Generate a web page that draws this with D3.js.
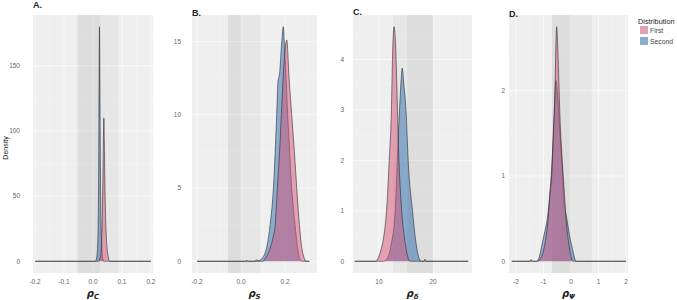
<!DOCTYPE html>
<html><head><meta charset="utf-8">
<script src="https://cdn.jsdelivr.net/npm/d3@7"></script>
<style>body{margin:0;background:#fff}svg{display:block}</style>
</head><body><svg id="c" width="677" height="300"></svg>
<script>
// ---------- data ----------
const panelLabels = ["A.", "B.", "C.", "D."];
const seriesNames = ["First", "Second"];
const legendTitle = "Distribution";
const yAxisTitle = "Density";
const axisSymbols = ["C", "S", "δ", "Ψ"];

const xTicksA = [-0.2, -0.1, 0, 0.1, 0.2];
const xTickLabelsA = ["-0.2", "-0.1", "0.0", "0.1", "0.2"];
const xTicksB = [-0.2, 0, 0.2];
const xTickLabelsB = ["-0.2", "0.0", "0.2"];
const xTicksC = [10, 20];
const xTickLabelsC = ["10", "20"];
const xTicksD = [-2, -1, 0, 1, 2];
const xTickLabelsD = ["-2", "-1", "0", "1", "2"];

const yTicksA = [0, 50, 100, 150];
const yTicksB = [0, 5, 10, 15];
const yTicksC = [0, 1, 2, 3, 4];
const yTicksD = [0, 1, 2];

const xDomainA = [-0.207, 0.207];
const xDomainB = [-0.223, 0.345];
const xDomainC = [5.2, 27.2];
const xDomainD = [-2.25, 2.07];

// shaded intervals [outer, inner]
const bandA = [[-0.054, 0.087], [-0.054, 0.025]];
const bandB = [[-0.059, 0.086], [-0.059, 0.0]];
const bandC = [[12.6, 20], [15.2, 20]];
const bandD = [[-0.69, 0.76], [-0.69, 0.0]];

const firstA = [[-0.2,0],[0.018,0],[0.024,2],[0.028,8],[0.031,25],[0.034,60],[0.036,95],[0.0375,110],[0.039,92],[0.041,60],[0.044,30],[0.048,12],[0.052,4],[0.056,0.5],[0.06,0],[0.2,0]];
const secondA = [[-0.2,0],[0.008,0],[0.012,2],[0.016,12],[0.019,50],[0.0205,110],[0.0215,160],[0.0225,180],[0.0235,150],[0.025,90],[0.027,40],[0.03,12],[0.033,3],[0.037,0],[0.2,0]];

const firstB = [[-0.2,0],[0.1,0],[0.11,0.2],[0.13,0.8],[0.145,1.6],[0.155,2.5],[0.165,5],[0.175,7.5],[0.183,10],[0.195,13.5],[0.2077,15.1],[0.218,12.5],[0.23,10],[0.242,7.5],[0.253,5],[0.265,2.5],[0.275,1],[0.285,0.3],[0.295,0],[0.31,0]];
const secondB = [[-0.2,0],[0.02,0],[0.026,0.06],[0.032,0],[0.06,0],[0.07,0.08],[0.08,0.05],[0.095,0.2],[0.11,0.6],[0.12,1.2],[0.132,2.5],[0.147,5],[0.162,10],[0.168,12.3],[0.175,12.8],[0.185,15],[0.192,16],[0.198,14.5],[0.212,10],[0.23,5],[0.245,2.5],[0.258,0.8],[0.268,0.1],[0.28,0],[0.31,0]];

const firstC = [[5.5,0],[9.3,0],[9.8,0.05],[10.3,0.2],[10.9,0.5],[11.4,1],[11.9,2],[12.3,3],[12.5,4],[12.78,4.65],[13.1,4.2],[13.3,3.5],[13.6,2.3],[14.2,1],[14.8,0.4],[15.3,0.1],[15.8,0],[26.5,0]];
const secondC = [[5.5,0],[10.8,0],[11.5,0.05],[12.2,0.3],[13,1],[13.4,2],[13.8,3],[14.1,3.6],[14.3,3.83],[14.6,3.5],[15.0,3],[15.4,2],[16.2,1],[16.8,0.4],[17.3,0.1],[17.8,0],[18.3,0],[18.5,0.04],[18.7,0],[26.5,0]];

const firstD = [[-2.15,0],[-1.2,0],[-1.13,0.02],[-1.0,0.12],[-0.9,0.3],[-0.83,0.5],[-0.76,0.8],[-0.7,1.0],[-0.63,1.6],[-0.58,2.0],[-0.55,2.5],[-0.52,2.75],[-0.48,2.5],[-0.44,2.1],[-0.4,1.7],[-0.34,1.3],[-0.28,1.0],[-0.22,0.7],[-0.18,0.5],[-0.1,0.25],[-0.03,0.1],[0.05,0.01],[0.1,0],[2.0,0]];
const secondD = [[-2.15,0],[-1.5,0],[-1.45,0.02],[-1.4,0],[-1.25,0],[-1.15,0.05],[-1.05,0.2],[-0.95,0.35],[-0.86,0.5],[-0.72,1.0],[-0.62,1.6],[-0.55,2.12],[-0.5,2.0],[-0.42,1.6],[-0.32,1.1],[-0.25,0.7],[-0.15,0.5],[-0.05,0.3],[0.05,0.15],[0.15,0.02],[0.2,0],[2.0,0]];

// ---------- drawing ----------
const svg = d3.select("#c");
const fills = ["#D65276", "#2A6AAC"];
const fillAlpha = 0.5;
const drawOrder = [1, 0]; // Second below, First on top

const panels = [
  {label: panelLabels[0], x0: 33, x1: 153, xd: xDomainA, xt: xTicksA, xl: xTickLabelsA, yt: yTicksA, band: bandA, series: [firstA, secondA], sym: axisSymbols[0], titleY: 8, ylabX: 20},
  {label: panelLabels[1], x0: 192, x1: 317, xd: xDomainB, xt: xTicksB, xl: xTickLabelsB, yt: yTicksB, band: bandB, series: [firstB, secondB], sym: axisSymbols[1], titleY: 16, ylabX: 181},
  {label: panelLabels[2], x0: 353, x1: 472, xd: xDomainC, xt: xTicksC, xl: xTickLabelsC, yt: yTicksC, band: bandC, series: [firstC, secondC], sym: axisSymbols[2], titleY: 15, ylabX: 344},
  {label: panelLabels[3], x0: 509, x1: 628, xd: xDomainD, xt: xTicksD, xl: xTickLabelsD, yt: yTicksD, band: bandD, series: [firstD, secondD], sym: axisSymbols[3], titleY: 17, ylabX: 505}
];
const panelTop = 15, panelBottom = 273;

panels.forEach(p => {
  const x = d3.scaleLinear().domain(p.xd).range([p.x0, p.x1]);
  const ymax = d3.max(p.series.flat(), d => d[1]);
  const y = d3.scaleLinear().domain([-0.05 * ymax, 1.05 * ymax]).range([panelBottom, panelTop]);
  const g = svg.append("g");
  g.append("rect").attr("x", p.x0).attr("y", panelTop).attr("width", p.x1 - p.x0).attr("height", panelBottom - panelTop).attr("fill", "#EFEFEF");

  // grid
  const xStep = p.xt[1] - p.xt[0];
  const xMinor = d3.range(p.xt[0] - xStep / 2, p.xd[1], xStep).filter(v => v > p.xd[0] && v < p.xd[1]);
  const yStep = p.yt[1] - p.yt[0];
  const yMinor = d3.range(p.yt[0] + yStep / 2, y.domain()[1], yStep);
  g.selectAll(null).data(xMinor).join("line").attr("x1", d => x(d)).attr("x2", d => x(d)).attr("y1", panelTop).attr("y2", panelBottom).attr("stroke", "#fff").attr("stroke-width", 0.4).attr("opacity", 0.7);
  g.selectAll(null).data(yMinor).join("line").attr("y1", d => y(d)).attr("y2", d => y(d)).attr("x1", p.x0).attr("x2", p.x1).attr("stroke", "#fff").attr("stroke-width", 0.4).attr("opacity", 0.7);
  g.selectAll(null).data(p.xt).join("line").attr("x1", d => x(d)).attr("x2", d => x(d)).attr("y1", panelTop).attr("y2", panelBottom).attr("stroke", "#fff").attr("stroke-width", 0.8).attr("opacity", 0.8);
  g.selectAll(null).data(p.yt).join("line").attr("y1", d => y(d)).attr("y2", d => y(d)).attr("x1", p.x0).attr("x2", p.x1).attr("stroke", "#fff").attr("stroke-width", 0.8).attr("opacity", 0.8);

  // bands
  g.selectAll(null).data(p.band).join("rect")
    .attr("x", d => x(d[0])).attr("width", d => x(d[1]) - x(d[0]))
    .attr("y", panelTop).attr("height", panelBottom - panelTop)
    .attr("fill", "#000").attr("opacity", 0.035);

  // densities
  const area = d3.area().x(d => x(d[0])).y0(y(0)).y1(d => y(d[1])).curve(d3.curveMonotoneX);
  const line = d3.line().x(d => x(d[0])).y(d => y(d[1])).curve(d3.curveMonotoneX);
  drawOrder.forEach(i => {
    g.append("path").datum(p.series[i]).attr("d", area).attr("fill", fills[i]).attr("fill-opacity", fillAlpha);
    g.append("path").datum(p.series[i]).attr("d", line).attr("fill", "none").attr("stroke", "#2a2a2a").attr("stroke-width", 0.7).attr("stroke-opacity", 0.85);
  });

  // tick labels
  g.selectAll(null).data(p.xt).join("text")
    .attr("x", d => x(d)).attr("y", 284).attr("text-anchor", "middle")
    .attr("font-family", "Liberation Sans, Arial, sans-serif").attr("font-size", 6.5).attr("fill", "#666")
    .text((d, i) => p.xl[i]);
  g.selectAll(null).data(p.yt).join("text")
    .attr("x", p.ylabX).attr("y", d => y(d) + 2.3).attr("text-anchor", "end")
    .attr("font-family", "Liberation Sans, Arial, sans-serif").attr("font-size", 6.5).attr("fill", "#666")
    .text(d => d);

  // panel title
  g.append("text").attr("x", p.x0).attr("y", p.titleY)
    .attr("font-family", "Liberation Sans, Arial, sans-serif").attr("font-size", 9).attr("font-weight", "bold").attr("fill", "#222")
    .text(p.label);

  // x axis title
  const t = g.append("text").attr("x", (p.x0 + p.x1) / 2).attr("y", 297).attr("text-anchor", "middle")
    .attr("font-family", "DejaVu Sans, sans-serif").attr("font-weight", "bold").attr("font-style", "italic").attr("fill", "#222");
  t.append("tspan").attr("font-size", 10).text("ρ");
  t.append("tspan").attr("font-size", 7).attr("dy", 1.5).text(p.sym);
});

// y axis title
svg.append("text").attr("transform", "translate(8,148) rotate(-90)").attr("text-anchor", "middle")
  .attr("font-family", "Liberation Sans, Arial, sans-serif").attr("font-size", 7).attr("fill", "#222").text(yAxisTitle);

// legend
const lg = svg.append("g");
lg.append("text").attr("x", 638).attr("y", 24).attr("font-family", "Liberation Sans, Arial, sans-serif").attr("font-size", 7.3).attr("fill", "#222").text(legendTitle);
seriesNames.forEach((n, i) => {
  lg.append("rect").attr("x", 640).attr("y", 26 + i * 11).attr("width", 8).attr("height", 8).attr("fill", "#EFEFEF");
  lg.append("rect").attr("x", 640).attr("y", 26 + i * 11).attr("width", 8).attr("height", 8).attr("fill", fills[i]).attr("fill-opacity", fillAlpha);
  lg.append("text").attr("x", 650).attr("y", 32.5 + i * 11).attr("font-family", "Liberation Sans, Arial, sans-serif").attr("font-size", 6.8).attr("fill", "#444").text(n);
});
</script></body></html>
